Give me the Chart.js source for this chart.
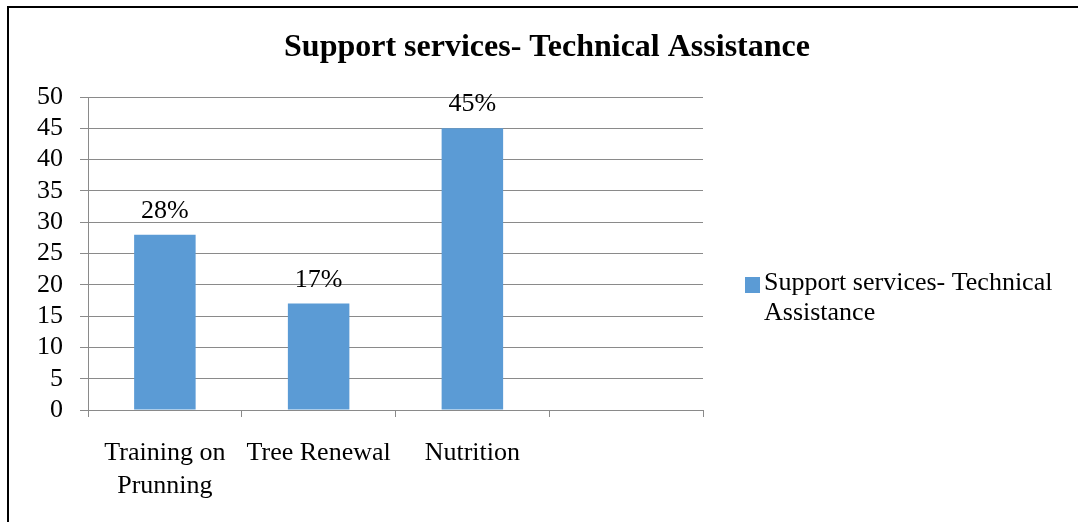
<!DOCTYPE html>
<html>
<head>
<meta charset="utf-8">
<script src="https://cdn.jsdelivr.net/npm/chart.js@4.4.1/dist/chart.umd.min.js"></script>
<style>
html, body { margin: 0; padding: 0; background: #fff; }
#wrap { position: relative; width: 1078px; height: 522px; overflow: hidden; }
#frame { position: absolute; left: 7px; top: 6px; width: 1200px; height: 600px; border-top: 2px solid #000; border-left: 2px solid #000; pointer-events: none; }
canvas { position: absolute; left: 0; top: 0; }
</style>
</head>
<body>
<div id="wrap">
    <canvas id="chart" width="1078" height="522"></canvas>
    <div id="frame"></div>
</div>
<script>
// data
const categories = [['Training on', 'Prunning'], 'Tree Renewal', 'Nutrition', ''];
const seriesName = 'Support services- Technical Assistance';
const seriesValues = [28, 17, 45, null];
const yMin = 0;
const yMax = 50;
const yStep = 5;

const barColor = '#5B9BD5';
const gridColor = '#8a8a8a';
const serif = '"Liberation Serif", "Times New Roman", serif';

// percentage labels above the bars
const barLabels = {
    id: 'barLabels',
    afterDatasetsDraw(chart) {
        const ctx = chart.ctx;
        const meta = chart.getDatasetMeta(0);
        ctx.save();
        ctx.font = '26px ' + serif;
        ctx.fillStyle = '#000';
        ctx.textAlign = 'center';
        ctx.textBaseline = 'alphabetic';
        meta.data.forEach((bar, i) => {
            const v = seriesValues[i];
            if (v == null) return;
            ctx.fillText(v + '%', bar.x, bar.y - 17);
        });
        ctx.restore();
    }
};

// legend on the right, wrapped on two lines
const sideLegend = {
    id: 'sideLegend',
    afterDraw(chart) {
        const ctx = chart.ctx;
        const area = chart.chartArea;
        const boxX = area.right + 42;
        const boxY = area.top + 180;
        const textX = boxX + 19;
        const maxW = chart.width - textX - 8;
        ctx.save();
        ctx.fillStyle = barColor;
        ctx.fillRect(boxX, boxY, 15, 16);
        ctx.font = '26px ' + serif;
        ctx.fillStyle = '#000';
        ctx.textAlign = 'left';
        ctx.textBaseline = 'alphabetic';
        let lines = [];
        let cur = '';
        seriesName.split(' ').forEach(w => {
            const t = cur ? cur + ' ' + w : w;
            if (ctx.measureText(t).width > maxW && cur) {
                lines.push(cur);
                cur = w;
            } else {
                cur = t;
            }
        });
        lines.push(cur);
        lines.forEach((l, i) => {
            ctx.fillText(l, textX, boxY + 13 + i * 30);
        });
        ctx.restore();
    }
};

new Chart(document.getElementById('chart'), {
    type: 'bar',
    data: {
        labels: categories,
        datasets: [{
            label: seriesName,
            data: seriesValues,
            backgroundColor: barColor,
            barPercentage: 0.4,
            categoryPercentage: 1.0,
            yAxisID: 'y'
        }]
    },
    options: {
        responsive: false,
        animation: false,
        layout: { padding: { left: 16, right: 0, top: 0, bottom: 0 } },
        plugins: {
            legend: { display: false },
            tooltip: { enabled: false },
            title: {
                display: true,
                text: seriesName,
                color: '#000',
                font: { family: serif, size: 32, weight: 'bold', lineHeight: 1.2 },
                padding: { top: 29, bottom: 29.6 }
            }
        },
        scales: {
            x: {
                grid: { display: true, drawOnChartArea: false, drawTicks: true, tickLength: 7, color: gridColor, offset: true },
                border: { display: true, color: gridColor, width: 1 },
                ticks: {
                    color: '#000',
                    font: { family: serif, size: 26, lineHeight: 1.25 },
                    padding: 20,
                    maxRotation: 0,
                    autoSkip: false
                },
                afterFit(s) { s.height = 112; }
            },
            y: {
                position: 'left',
                min: yMin,
                max: yMax,
                ticks: { stepSize: yStep, autoSkip: false, color: '#000', font: { family: serif, size: 26 }, padding: 17 },
                grid: { color: gridColor, tickLength: 8 },
                border: { color: gridColor },
                afterFit(s) { s.width = 72; }
            },
            // empty axis that keeps room for the legend
            yRight: {
                position: 'right',
                display: true,
                grid: { display: false, drawTicks: false },
                border: { display: false },
                ticks: { display: false },
                afterFit(s) { s.width = 375; }
            }
        }
    },
    plugins: [barLabels, sideLegend]
});
</script>
</body>
</html>
